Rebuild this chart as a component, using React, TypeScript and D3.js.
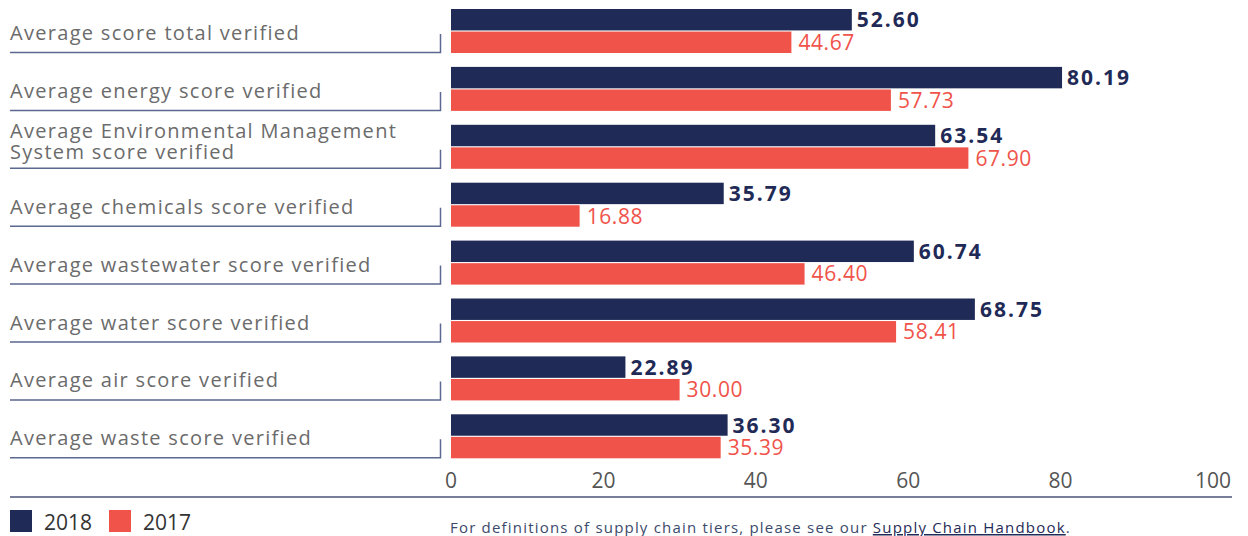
import React, { useEffect, useRef } from "react";
import * as d3 from "d3";

const categories = [
  ["Average score total verified"],
  ["Average energy score verified"],
  ["Average Environmental Management", "System score verified"],
  ["Average chemicals score verified"],
  ["Average wastewater score verified"],
  ["Average water score verified"],
  ["Average air score verified"],
  ["Average waste score verified"],
];
const series = ["2018", "2017"];
const values2018 = [52.6, 80.19, 63.54, 35.79, 60.74, 68.75, 22.89, 36.3];
const values2017 = [44.67, 57.73, 67.9, 16.88, 46.4, 58.41, 30.0, 35.39];
const ticks = [0, 20, 40, 60, 80, 100];

const NAVY = "#1f2a56";
const RED = "#f0534a";
const FONT = "'Open Sans', sans-serif";

export default function App() {
  const ref = useRef<SVGSVGElement>(null);

  useEffect(() => {
    const svg = d3.select(ref.current);
    svg.selectAll("*").remove();

    const keys = categories.map((c, i) => String(i));
    const x = d3.scaleLinear().domain([0, 100]).range([451, 1213]);
    const y = d3.scaleBand().domain(keys).range([9, 9 + 8 * 57.9]).paddingInner(0);
    const inner = d3.scaleBand().domain(series).range([0, 44]).paddingInner(0.05);

    const rows = categories.map((label, i) => ({
      key: String(i),
      label,
      vals: [values2018[i], values2017[i]],
    }));

    const g = svg.append("g").style("font-family", FONT);

    const row = g
      .selectAll("g.row")
      .data(rows)
      .join("g")
      .attr("class", "row")
      .attr("transform", (d) => `translate(0,${y(d.key)})`);

    // label underline + small tick
    row
      .append("path")
      .attr("d", "M10,43.5H440.5V25")
      .attr("fill", "none")
      .attr("stroke", "#5b6890")
      .attr("stroke-width", 1.5);

    row
      .append("text")
      .attr("x", 10)
      .attr("y", (d) => (d.label.length > 1 ? 13 : 31))
      .attr("fill", "#6b6b6b")
      .attr("font-size", 20)
      .attr("letter-spacing", 1.3)
      .selectAll("tspan")
      .data((d) => d.label)
      .join("tspan")
      .attr("x", 10)
      .attr("dy", (d, i) => (i === 0 ? 0 : 21))
      .text((d) => d);

    series.forEach((s, si) => {
      row
        .append("rect")
        .attr("x", x(0))
        .attr("y", inner(s)!)
        .attr("width", (d) => x(d.vals[si]) - x(0))
        .attr("height", inner.bandwidth())
        .attr("fill", si === 0 ? NAVY : RED);

      row
        .append("text")
        .attr("x", (d) => x(d.vals[si]) + (si === 0 ? 5 : 7))
        .attr("y", inner(s)! + inner.bandwidth() / 2)
        .attr("dy", "0.36em")
        .attr("font-size", 21)
        .attr("font-weight", si === 0 ? 700 : 400)
        .attr("letter-spacing", si === 0 ? 2 : 0.6)
        .attr("fill", si === 0 ? NAVY : RED)
        .text((d) => d.vals[si].toFixed(2));
    });

    // axis
    g.append("line")
      .attr("x1", 10)
      .attr("x2", 1232)
      .attr("y1", 497)
      .attr("y2", 497)
      .attr("stroke", "#4a5578")
      .attr("stroke-width", 1.5);

    g.selectAll("text.tick")
      .data(ticks)
      .join("text")
      .attr("class", "tick")
      .attr("x", (d) => x(d))
      .attr("y", 488)
      .attr("text-anchor", "middle")
      .attr("font-size", 21)
      .attr("fill", "#555")
      .text((d) => d);

    // legend
    const leg = g
      .selectAll("g.leg")
      .data(series)
      .join("g")
      .attr("class", "leg")
      .attr("transform", (d, i) => `translate(${10 + i * 99},510)`);
    leg
      .append("rect")
      .attr("width", 22)
      .attr("height", 22)
      .attr("fill", (d, i) => (i === 0 ? NAVY : RED));
    leg
      .append("text")
      .attr("x", 34)
      .attr("y", 20)
      .attr("font-size", 21)
      .attr("fill", "#333")
      .text((d) => d);

    // footnote
    const note = g
      .append("text")
      .attr("x", 450)
      .attr("y", 533)
      .attr("font-size", 15)
      .attr("letter-spacing", 1.2)
      .attr("fill", "#3b4a6b");
    note.append("tspan").text("For definitions of supply chain tiers, please see our ");
    note
      .append("tspan")
      .attr("fill", NAVY)
      .attr("text-decoration", "underline")
      .text("Supply Chain Handbook");
    note.append("tspan").text(".");
  }, []);

  return (
    <svg
      ref={ref}
      width={1248}
      height={536}
      style={{ position: "absolute", left: 0, top: 0, background: "#fff" }}
    />
  );
}
